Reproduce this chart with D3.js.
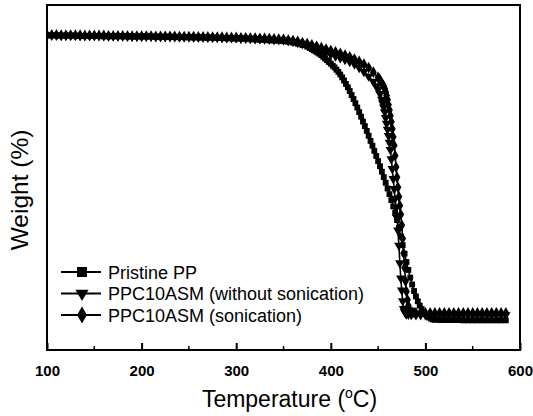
<!DOCTYPE html>
<html><head><meta charset="utf-8">
<script src="https://cdn.jsdelivr.net/npm/d3@7"></script>
<style>body{margin:0;background:#fff}svg{display:block}</style>
</head><body><svg id="c" width="533" height="416"></svg>
<script>
const xTicks=[100,200,300,400,500,600];
const xMinor=[150,250,350,450,550];
const xTitle="Temperature (";
const yTitle="Weight (%)";
const legendLabels=["Pristine PP","PPC10ASM (without sonication)","PPC10ASM (sonication)"];

const tempPP=[100,105,110,115,120,125,130,135,140,145,150,155,160,165,170,175,180,185,190,195,200,
205,210,215,220,225,230,235,240,245,250,255,260,265,270,275,280,285,290,295,300,
305,310,315,320,325,330,335,340,345,350,355,360,365,370,375,
378,380,382,384,386,388,390,392,394,396,398,400,402,404,406,408,410,412,414,416,418,420,422,424,426,428,430,432,434,436,438,440,442,444,446,448,450,452,454,456,458,460,462,464,466,468,470,472,474,476,478,480,482,484,486,488,490,492,494,496,498,500,502,504,506,508,510,
515,520,525,530,535,540,545,550,555,560,565,570,575,580,585];
const weightPP=[100.2,100.2,100.2,100.1,100.1,100.1,100.1,100.0,100.0,100.0,100.0,100.0,99.9,99.9,99.9,99.9,99.9,99.8,99.8,99.8,99.8,
99.8,99.8,99.7,99.7,99.7,99.7,99.6,99.6,99.6,99.5,99.5,99.5,99.4,99.4,99.4,99.3,99.3,99.2,99.2,99.1,
99.1,99.0,98.9,98.8,98.7,98.6,98.5,98.4,98.3,98.2,98.0,97.7,97.3,96.8,96.3,
95.8,95.4,95.0,94.6,94.2,93.8,93.3,92.7,92.1,91.5,90.9,90.3,89.6,89.0,88.2,87.4,86.5,85.5,84.4,83.2,82.0,80.7,79.3,77.9,76.4,74.9,73.3,71.7,70.0,68.4,66.7,65.0,63.2,61.5,59.7,57.9,56.1,54.3,52.4,50.5,48.5,46.5,44.5,42.4,40.2,37.9,35.4,32.6,29.6,26.6,23.6,20.7,17.9,15.2,12.8,10.5,8.6,6.9,5.4,4.2,3.2,2.4,1.7,1.2,0.8,0.5,0.4,
0.3,0.3,0.3,0.3,0.3,0.2,0.2,0.2,0.2,0.2,0.2,0.2,0.2,0.2,0.2];

const tempNS=[100,105,110,115,120,125,130,135,140,145,150,155,160,165,170,175,180,185,190,195,200,
205,210,215,220,225,230,235,240,245,250,255,260,265,270,275,280,285,290,295,300,
305,310,315,320,325,330,335,340,345,350,355,360,365,370,375,
380,385,390,395,400,405,410,415,420,425,430,435,440,445,448,450,452,454,
455,456,457,458,459,460,461,462,463,464,465,466,467,468,469,470,471,472,473,474,475,476,477,478,479,480,
482,485,490,
495,500,505,510,515,520,525,530,535,540,545,550,555,560,565,570,575,580,585];
const weightNS=[100.3,100.3,100.3,100.2,100.2,100.2,100.2,100.1,100.1,100.1,100.1,100.1,100.0,100.0,100.0,100.0,100.0,99.9,99.9,99.9,99.9,
99.9,99.9,99.8,99.8,99.8,99.8,99.7,99.7,99.7,99.7,99.6,99.6,99.6,99.5,99.5,99.5,99.4,99.4,99.3,99.3,
99.2,99.2,99.1,99.0,99.0,98.9,98.8,98.7,98.7,98.6,98.4,98.1,97.7,97.3,96.8,
96.3,95.7,95.0,94.2,93.5,92.9,92.3,91.7,91.0,90.1,88.9,87.5,85.9,84.0,82.5,81.3,79.7,77.7,
76.4,75.0,73.3,71.3,69.3,67.2,65.0,62.6,60.1,56.8,53.4,49.9,46.4,43.0,39.8,36.2,31.8,26.5,20.3,15.0,10.8,7.0,4.3,3.2,2.7,2.4,
2.3,2.2,2.1,
2.1,2.1,2.1,2.1,2.1,2.1,2.1,2.1,2.1,2.1,2.1,2.1,2.1,2.1,2.1,2.1,2.1,2.1,2.1];

const tempS=[100,105,110,115,120,125,130,135,140,145,150,155,160,165,170,175,180,185,190,195,200,
205,210,215,220,225,230,235,240,245,250,255,260,265,270,275,280,285,290,295,300,
305,310,315,320,325,330,335,340,345,350,355,360,365,370,375,
380,385,390,395,400,405,410,415,420,425,430,435,440,445,450,
451,452,453,454,455,456,457,458,459,460,461,462,463,464,465,466,467,468,469,470,471,472,473,474,475,476,477,478,479,480,481,482,483,484,
486,488,490,
495,500,505,510,515,520,525,530,535,540,545,550,555,560,565,570,575,580,585];
const weightS=[100.4,100.4,100.4,100.3,100.3,100.3,100.3,100.3,100.2,100.2,100.2,100.2,100.2,100.1,100.1,100.1,100.1,100.1,100.0,100.0,100.0,
100.0,100.0,99.9,99.9,99.9,99.9,99.9,99.8,99.8,99.8,99.8,99.7,99.7,99.7,99.6,99.6,99.6,99.5,99.5,99.5,
99.4,99.4,99.3,99.3,99.2,99.2,99.1,99.0,98.9,98.8,98.6,98.4,98.1,97.7,97.3,
96.9,96.4,95.9,95.4,94.9,94.4,93.9,93.3,92.7,91.9,91.1,90.1,88.9,87.3,85.5,
85.0,84.5,84.0,83.4,82.9,82.3,81.5,80.4,79.1,77.6,75.9,74.0,72.0,69.9,67.4,64.6,61.6,58.0,54.0,50.4,46.9,43.6,40.5,37.4,33.6,28.9,23.8,18.7,14.0,10.3,7.4,5.3,4.0,3.3,
3.0,2.9,2.8,
2.8,2.8,2.8,2.8,2.8,2.8,2.8,2.8,2.8,2.8,2.8,2.8,2.8,2.8,2.8,2.8,2.8,2.8,2.8];

const FONT='"Liberation Sans", Arial, Helvetica, sans-serif';
const svg=d3.select("#c");
const L=47,R=520,T=5,B=350;
const x=d3.scaleLinear().domain([100,600]).range([L,R]);
const y=d3.scaleLinear().domain([-10.2,110.9]).range([B,T]);

svg.append("defs").append("clipPath").attr("id","clip")
  .append("rect").attr("x",L).attr("y",T).attr("width",R-L).attr("height",B-T);

const series=[
  {t:tempPP,w:weightPP,sym:d3.symbolSquare,size:34,rot:0,leg:100},
  {t:tempNS,w:weightNS,sym:d3.symbolTriangle,size:40,rot:180,leg:75},
  {t:tempS,w:weightS,sym:d3.symbolDiamond,size:40,rot:0,leg:85}
];
const line=d3.line().x(d=>x(d[0])).y(d=>y(d[1]));
const plot=svg.append("g").attr("clip-path","url(#clip)");
series.forEach(s=>{
  const pts=d3.zip(s.t,s.w);
  plot.append("path").attr("d",line(pts)).attr("fill","none").attr("stroke","#000").attr("stroke-width",1.6);
  plot.selectAll(null).data(pts).enter().append("path")
    .attr("d",d3.symbol().type(s.sym).size(s.size)())
    .attr("transform",d=>`translate(${x(d[0])},${y(d[1])}) rotate(${s.rot})`)
    .attr("fill","#000");
});

// frame
svg.append("rect").attr("x",L).attr("y",T).attr("width",R-L).attr("height",B-T)
  .attr("fill","none").attr("stroke","#000").attr("stroke-width",2);

// bottom axis
const xAxis=d3.axisBottom(x).tickValues(xTicks).tickSizeInner(-7).tickSizeOuter(0).tickPadding(15);
const gx=svg.append("g").attr("transform",`translate(0,${B})`).call(xAxis);
gx.select(".domain").remove();
gx.selectAll(".tick line").attr("stroke-width",2);
gx.selectAll(".tick text").attr("font-family",FONT).attr("font-weight","bold").attr("font-size",15).attr("fill","#000");
svg.append("g").selectAll("line").data(xMinor).enter().append("line")
  .attr("x1",d=>x(d)).attr("x2",d=>x(d)).attr("y1",B).attr("y2",B-4)
  .attr("stroke","#000").attr("stroke-width",1.5);

// titles
const xt=svg.append("text").attr("x",(L+R)/2+6).attr("y",407).attr("text-anchor","middle")
  .attr("font-family",FONT).attr("font-size",23).attr("fill","#000");
xt.append("tspan").text(xTitle);
xt.append("tspan").text("o").attr("font-size",14).attr("dy",-9);
xt.append("tspan").text("C)").attr("dy",9);

svg.append("text").attr("transform","translate(28,190) rotate(-90)").attr("text-anchor","middle")
  .attr("font-family",FONT).attr("font-size",24.5).attr("fill","#000").text(yTitle);

// legend
const ly=[272,293.5,315];
const lg=svg.append("g");
series.forEach((s,i)=>{
  lg.append("line").attr("x1",61).attr("x2",101).attr("y1",ly[i]).attr("y2",ly[i])
    .attr("stroke","#000").attr("stroke-width",2);
  lg.append("path").attr("d",d3.symbol().type(s.sym).size(s.leg)())
    .attr("transform",`translate(82,${ly[i]}) rotate(${s.rot})`).attr("fill","#000");
  lg.append("text").attr("x",108).attr("y",ly[i]+6.5).attr("font-family",FONT)
    .attr("font-size",18).attr("fill","#000").text(legendLabels[i]);
});
</script></body></html>
